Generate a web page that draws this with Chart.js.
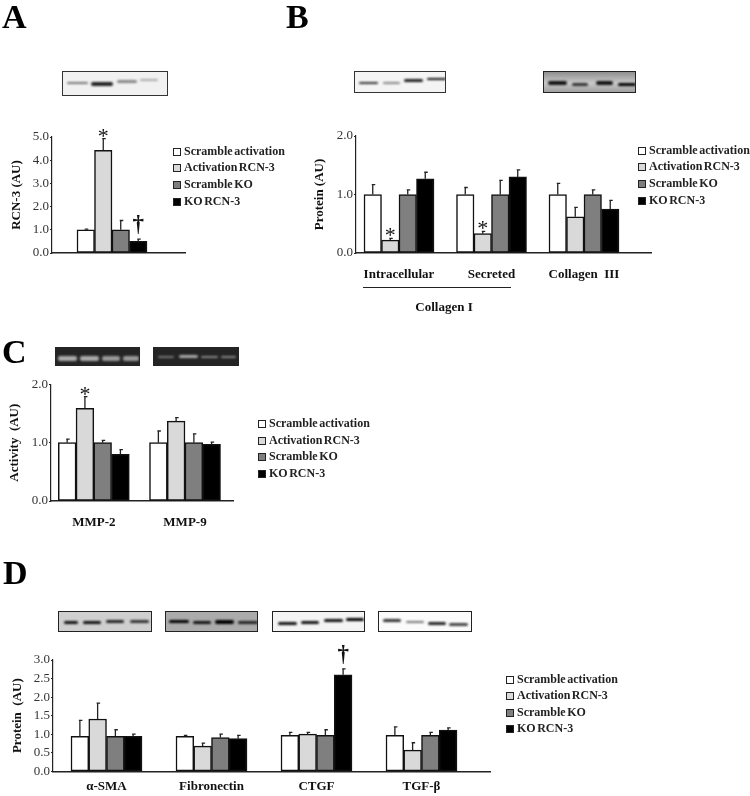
<!DOCTYPE html>
<html>
<head>
<meta charset="utf-8">
<script src="https://cdn.jsdelivr.net/npm/chart.js@4"></script>
<style>
  html, body { margin: 0; padding: 0; background: #fff; }
  #page { position: relative; width: 750px; height: 796px; overflow: hidden; filter: blur(0.35px); font-family: "Liberation Serif", serif; color: #111; }
  canvas { position: absolute; }
  .letter { position: absolute; font-size: 34px; font-weight: bold; line-height: 34px; color: #000; }
  .legend { position: absolute; font-size: 12px; font-weight: bold; word-spacing: -1.5px; color: #222; }
  .legend div { position: absolute; left: 0; white-space: nowrap; line-height: 14px; }
  .legend i { display: inline-block; box-sizing: border-box; width: 8px; height: 8px; margin-right: 3px; border: 1px solid #222; vertical-align: -0.5px; }
  .note { position: absolute; font-size: 13px; font-weight: bold; white-space: nowrap; transform: translateX(-50%); }
  .blot { position: absolute; box-sizing: border-box; border: 1px solid #333; overflow: hidden; }
  .blot b { position: absolute; border-radius: 2px; filter: blur(1px); }
</style>
</head>
<body>
<div id="page"></div>
<script>
const seriesNames = ["Scramble activation", "Activation RCN-3", "Scramble KO", "KO RCN-3"];
const seriesFill = ["#ffffff", "#d9d9d9", "#7f7f7f", "#000000"];

// A
const aGroups = [""];
const aScramble = [1.0];
const aActivation = [4.43];
const aScrambleKO = [1.0];
const aKO = [0.5];
const aScrambleErr = [0.03];
const aActivationErr = [0.5];
const aScrambleKOErr = [0.4];
const aKOErr = [0.1];
const aTicks = [0, 1, 2, 3, 4, 5];

// B
const bGroups = ["Intracellular", "Secreted", "Collagen  III"];
const bScramble = [1.0, 1.0, 1.0];
const bActivation = [0.22, 0.33, 0.62];
const bScrambleKO = [1.0, 1.0, 1.0];
const bKO = [1.27, 1.3, 0.75];
const bScrambleErr = [0.17, 0.12, 0.19];
const bActivationErr = [0.03, 0.04, 0.16];
const bScrambleKOErr = [0.08, 0.24, 0.08];
const bKOErr = [0.11, 0.12, 0.15];
const bTicks = [0, 1, 2];

// C
const cGroups = ["MMP-2", "MMP-9"];
const cScramble = [1.0, 1.0];
const cActivation = [1.59, 1.37];
const cScrambleKO = [1.0, 1.0];
const cKO = [0.8, 0.97];
const cScrambleErr = [0.06, 0.2];
const cActivationErr = [0.2, 0.06];
const cScrambleKOErr = [0.04, 0.15];
const cKOErr = [0.08, 0.04];
const cTicks = [0, 1, 2];

// D
const dGroups = ["α-SMA", "Fibronectin", "CTGF", "TGF-β"];
const dScramble = [0.94, 0.94, 0.97, 0.97];
const dActivation = [1.41, 0.68, 1.0, 0.57];
const dScrambleKO = [0.94, 0.91, 0.97, 0.97];
const dKO = [0.94, 0.88, 2.6, 1.11];
const dScrambleErr = [0.43, 0.03, 0.08, 0.23];
const dActivationErr = [0.43, 0.08, 0.05, 0.2];
const dScrambleKOErr = [0.18, 0.09, 0.15, 0.08];
const dKOErr = [0.06, 0.09, 0.16, 0.06];
const dTicks = [0, 0.5, 1, 1.5, 2, 2.5, 3];

const page = document.getElementById("page");

// error bars and significance marks, placed from the library's own bars and scale
const annotate = {
  id: "annotate",
  afterDatasetsDraw(chart, args, opts) {
    const ctx = chart.ctx;
    const y = chart.scales.y;
    ctx.save();
    chart.data.datasets.forEach((ds, d) => {
      chart.getDatasetMeta(d).data.forEach((bar, i) => {
        const top = y.getPixelForValue(ds.data[i].y + ds.errors[i]);
        ctx.strokeStyle = "#222";
        ctx.lineWidth = 1.3;
        ctx.beginPath();
        ctx.moveTo(bar.x, bar.y);
        ctx.lineTo(bar.x, top);
        ctx.moveTo(bar.x - 1, top);
        ctx.lineTo(bar.x + 2.5, top);
        ctx.stroke();
        const mark = ds.marks[i];
        if (mark) {
          ctx.fillStyle = "#111";
          ctx.textAlign = "center";
          ctx.textBaseline = "alphabetic";
          ctx.font = mark === "*" ? '22px "Liberation Serif"' : 'bold 23px "Liberation Serif"';
          ctx.fillText(mark, bar.x, top + (mark === "*" ? 4 : -8));
        }
      });
    });
    ctx.restore();
  }
};

function drawPanel(p) {
  const canvas = document.createElement("canvas");
  canvas.width = p.box[2];
  canvas.height = p.box[3];
  canvas.style.left = p.box[0] + "px";
  canvas.style.top = p.box[1] + "px";
  page.appendChild(canvas);

  const xh = p.labelGap + 20;
  const datasets = p.values.map((vals, s) => ({
    label: seriesNames[s],
    data: vals.map((v, i) => ({ x: i, y: v })),
    errors: p.errors[s],
    marks: (p.marks && p.marks[s]) || [],
    backgroundColor: seriesFill[s],
    borderColor: "#111",
    borderWidth: 1.5,
    borderSkipped: false,
    barThickness: p.barWidth
  }));

  new Chart(canvas.getContext("2d"), {
    type: "bar",
    data: { datasets },
    plugins: [annotate],
    options: {
      responsive: false,
      animation: false,
      devicePixelRatio: 1,
      layout: {
        padding: {
          left: 0,
          right: p.box[0] + p.box[2] - p.right,
          top: p.top - p.box[1],
          bottom: p.box[1] + p.box[3] - p.bottom - xh
        }
      },
      plugins: { legend: { display: false }, tooltip: { enabled: false } },
      scales: {
        x: {
          type: "linear",
          offset: false,
          min: (p.left - p.start) / p.step,
          max: (p.right - p.start) / p.step,
          afterBuildTicks: s => { s.ticks = p.groups.map((g, i) => ({ value: i })); },
          afterFit: s => { s.height = xh; s.paddingLeft = 0; s.paddingRight = 0; },
          grid: { offset: false, drawOnChartArea: false, drawTicks: false },
          border: { color: "#222", width: 1.5 },
          ticks: {
            autoSkip: false,
            maxRotation: 0,
            minRotation: 0,
            padding: p.labelGap,
            color: "#111",
            font: { family: "Liberation Serif", size: 13, weight: "bold" },
            callback: v => p.groups[v] || ""
          }
        },
        y: {
          min: p.yTicks[0],
          max: p.yTicks[p.yTicks.length - 1],
          afterFit: s => { s.width = p.left - p.box[0]; },
          afterBuildTicks: s => { s.ticks = p.yTicks.map(v => ({ value: v })); },
          grid: { drawOnChartArea: false, tickLength: 2, color: "#222" },
          border: { color: "#222", width: 1.2 },
          ticks: {
            autoSkip: false,
            padding: 1,
            color: "#333",
            font: { family: "Liberation Serif", size: 13 },
            callback: v => v.toFixed(1)
          },
          title: {
            display: true,
            text: p.yTitle,
            color: "#111",
            padding: { top: p.titleGap, bottom: 0 },
            font: { family: "Liberation Serif", size: 13, weight: "bold" }
          }
        }
      }
    }
  });

  // legend built from the chart's datasets
  const legend = document.createElement("div");
  legend.className = "legend";
  legend.style.left = p.legend[0] + "px";
  legend.style.top = p.legend[1] + "px";
  datasets.forEach((ds, s) => {
    const row = document.createElement("div");
    row.style.top = p.legendRows[s] + "px";
    const swatch = document.createElement("i");
    swatch.style.background = ds.backgroundColor;
    row.appendChild(swatch);
    row.appendChild(document.createTextNode(ds.label));
    legend.appendChild(row);
  });
  page.appendChild(legend);
}

drawPanel({
  box: [0, 125, 190, 140], left: 52, right: 185, top: 137, bottom: 253,
  start: 112, step: 100, barWidth: 17.5, labelGap: 4, titleGap: 9,
  groups: aGroups, yTicks: aTicks, yTitle: "RCN-3 (AU)",
  values: [aScramble, aActivation, aScrambleKO, aKO],
  errors: [aScrambleErr, aActivationErr, aScrambleKOErr, aKOErr],
  marks: [[], ["*"], [], ["†"]],
  legend: [173, 144], legendRows: [0, 16, 33, 50]
});
drawPanel({
  box: [300, 125, 355, 165], left: 356, right: 651, top: 136, bottom: 253,
  start: 399, step: 92.5, barWidth: 17.5, labelGap: 14, titleGap: 12,
  groups: bGroups, yTicks: bTicks, yTitle: "Protein (AU)",
  values: [bScramble, bActivation, bScrambleKO, bKO],
  errors: [bScrambleErr, bActivationErr, bScrambleKOErr, bKOErr],
  marks: [[], ["*", "*"], [], []],
  legend: [638, 143], legendRows: [0, 16, 33, 50]
});
drawPanel({
  box: [0, 375, 240, 165], left: 51, right: 233, top: 384.3, bottom: 501,
  start: 93.8, step: 91.2, barWidth: 17.75, labelGap: 14, titleGap: 7,
  groups: cGroups, yTicks: cTicks, yTitle: "Activity  (AU)",
  values: [cScramble, cActivation, cScrambleKO, cKO],
  errors: [cScrambleErr, cActivationErr, cScrambleKOErr, cKOErr],
  marks: [[], ["*"], [], []],
  legend: [258, 416], legendRows: [0, 17, 33, 50]
});
drawPanel({
  box: [0, 635, 495, 161], left: 53, right: 490, top: 660, bottom: 771.3,
  start: 106.5, step: 105, barWidth: 17.75, labelGap: 8, titleGap: 10,
  groups: dGroups, yTicks: dTicks, yTitle: "Protein  (AU)",
  values: [dScramble, dActivation, dScrambleKO, dKO],
  errors: [dScrambleErr, dActivationErr, dScrambleKOErr, dKOErr],
  marks: [[], [], [], [undefined, undefined, "†"]],
  legend: [506, 672], legendRows: [0, 16, 33, 49]
});

// panel letters and the Collagen I bracket
[["A", 2, 0], ["B", 286, 0], ["C", 2, 335], ["D", 3, 556]].forEach(([t, x, y]) => {
  const el = document.createElement("div");
  el.className = "letter";
  el.textContent = t;
  el.style.left = x + "px";
  el.style.top = y + "px";
  page.appendChild(el);
});
const collagen = document.createElement("div");
collagen.className = "note";
collagen.textContent = "Collagen I";
collagen.style.left = "444px";
collagen.style.top = "299px";
page.appendChild(collagen);
const bracket = document.createElement("div");
bracket.style.cssText = "position:absolute;left:363px;top:287px;width:148px;height:1px;background:#222";
page.appendChild(bracket);

// gel / blot photographs: [left, top, width, height, background, border, bands]
// band: [x0, x1, yCentre, thickness, colour]
const blots = [
  [62, 71, 106, 25, "#f1f1f1", "#333", [[66, 87, 83, 2.5, "#777"], [90, 112, 83.5, 4, "#222"], [116, 136, 81, 3, "#888"], [139, 157, 80, 2, "#aaa"]]],
  [353.5, 71, 92.5, 21.5, "#f4f4f4", "#333", [[358, 377, 83, 2.5, "#333"], [382, 399, 83, 2, "#888"], [403, 422, 80.5, 2.5, "#222"], [426, 445, 79, 2.5, "#111"]]],
  [542.7, 71, 93.3, 21.5, "linear-gradient(#8f8f8f,#c8c8c8 55%,#a0a0a0)", "#222", [[547, 566, 83, 3.5, "#111"], [571, 587, 84, 3, "#333"], [595, 612, 83, 3.5, "#111"], [617, 635, 84.5, 3.5, "#000"]]],
  [55, 347, 85, 19, "#242424", "#242424", [[57, 76, 358, 5, "#aaa"], [79, 98, 358, 5, "#aaa"], [101, 119, 358.5, 4.5, "#999"], [122, 138, 358.5, 4.5, "#999"]]],
  [153, 347, 86, 19, "#242424", "#242424", [[157, 173, 356.5, 2, "#777"], [178, 197, 356.5, 2.5, "#aaa"], [200, 217, 357, 2, "#888"], [220, 235, 357, 2, "#888"]]],
  [58, 610.7, 94, 21.5, "#cfcfcf", "#222", [[63, 77, 623, 3, "#111"], [82, 100, 622.3, 3, "#111"], [105, 123, 622, 3, "#222"], [129, 148, 621.7, 2.5, "#333"]]],
  [165, 610.7, 93, 21.5, "#ababab", "#222", [[168, 188, 621.3, 3.5, "#000"], [192, 210, 622.7, 3, "#111"], [214, 233, 622, 3.5, "#000"], [237, 257, 622.7, 2.5, "#222"]]],
  [272, 610.7, 93, 21.5, "#f4f4f4", "#222", [[277, 296, 623.3, 3, "#111"], [300, 318, 622.7, 3, "#111"], [323, 342, 621, 3, "#111"], [345, 363, 619.3, 3.5, "#000"]]],
  [378, 610.7, 94, 21.5, "#fbfbfb", "#222", [[382, 400, 620.3, 2.5, "#333"], [405, 423, 622.3, 2, "#777"], [427, 445, 624, 3, "#222"], [448, 467, 624.7, 2.5, "#444"]]]
];
blots.forEach(([x, y, w, h, bg, border, bands]) => {
  const box = document.createElement("div");
  box.className = "blot";
  box.style.cssText = `left:${x}px;top:${y}px;width:${w}px;height:${h}px;background:${bg};border-color:${border}`;
  bands.forEach(([x0, x1, yc, t, col]) => {
    const band = document.createElement("b");
    band.style.cssText = `left:${x0 - x}px;top:${yc - y - t / 2 - 1}px;width:${x1 - x0}px;height:${t}px;background:${col}`;
    box.appendChild(band);
  });
  page.appendChild(box);
});
</script>
</body>
</html>
